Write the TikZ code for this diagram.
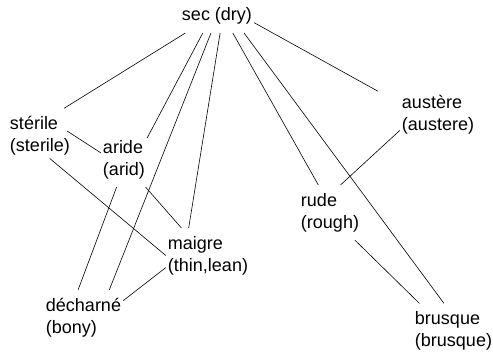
\documentclass[tikz,border=0pt]{standalone}
\usepackage{fontspec}
\setmainfont{Liberation Sans}

\tikzset{
  word/.style={align=left, font=\fontsize{18}{22}\selectfont, inner xsep=2pt, inner ysep=8pt},
  link/.style={line width=0.6pt}
}

\begin{document}
\begin{tikzpicture}[x=1pt,y=1pt]
\useasboundingbox (0,0) rectangle (493,352);
\node[word, inner ysep=9pt] (sec) at (217,336.5) {sec (dry)};
\node[word] (sterile) at (40,216) {stérile\\(sterile)};
\node[word] (aride) at (124,192.5) {aride\\(arid)};
\node[word] (maigre) at (208,96.5) {maigre\\(thin,lean)};
\node[word] (decharne) at (83.5,34.5) {décharné\\(bony)};
\node[word] (rude) at (330,139.5) {rude\\(rough)};
\node[word] (brusque) at (453.5,21) {brusque\\(brusque)};
\node[word] (austere) at (438,237) {austère\\(austere)};

\draw[link] (sec.209) -- (sterile.49);
\draw[link] (sec.231) -- (aride.43);
\draw[link] (sec.251) -- (decharne.47);
\draw[link] (sec.280) -- (maigre.125);
\draw[link] (sec.312) -- (rude.113);
\draw[link] (sec.327) -- (brusque.109);
\draw[link, shorten >=25pt] (sec.349) -- (austere.163);
\draw[link, shorten <=-6pt] (sterile.3) -- (aride.164);
\draw[link, shorten <=-8pt] (sterile.300) -- (maigre.west);
\draw[link] (aride.255) -- (decharne.101);
\draw[link] (aride.308) -- (maigre.134);
\draw[link] (maigre.196) -- (decharne.23);
\draw[link] (austere.202) -- (rude.69);
\draw[link] (rude.312) -- (brusque.141);
\end{tikzpicture}
\end{document}
